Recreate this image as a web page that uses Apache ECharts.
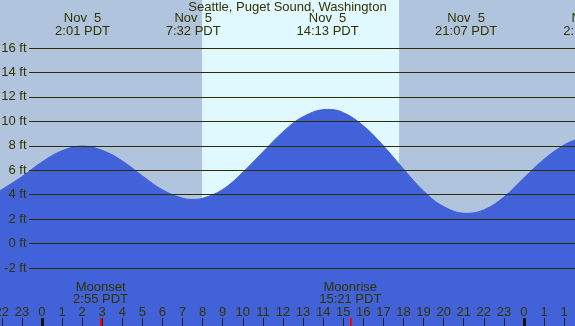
<!DOCTYPE html>
<html>
<head>
<meta charset="utf-8">
<script src="https://cdn.jsdelivr.net/npm/echarts@6/dist/echarts.min.js"></script>
<style>
html, body { margin: 0; padding: 0; background: #b0c4de; }
#chart { width: 575px; height: 326px; }
</style>
</head>
<body>
<div id="chart"></div>
<script>
// tide heights (hours since midnight Nov 5, PDT; feet)
var tideHours = [-2.09, -1, 0, 1, 2.02, 3, 4, 5, 6, 7, 7.53, 8, 9, 10, 11, 12, 13, 14.22,
  15, 16, 17, 18, 19, 20, 21.12, 22, 23, 24, 25, 26, 26.54];
var tideFeet = [4.35, 5.5, 6.7, 7.62, 8.0, 7.65, 6.78, 5.56, 4.42, 3.74, 3.64, 3.73, 4.45, 5.85, 7.52, 9.16, 10.4, 11.0,
  10.74, 9.66, 8.02, 6.12, 4.32, 3.05, 2.5, 2.78, 3.83, 5.4, 6.92, 8.1, 8.5];

// high / low tide labels
var extremeHours = [2.02, 7.53, 14.22, 21.12, 27.3];
var extremeLabels = ['Nov  5\n2:01 PDT', 'Nov  5\n7:32 PDT', 'Nov  5\n14:13 PDT', 'Nov  5\n21:07 PDT', 'Nov  6\n2:18 PST'];

// hour ticks along the bottom (DST ends at 2:00 on Nov 6, so "1" twice)
var hourTicks = [-2, -1, 0, 1, 2, 3, 4, 5, 6, 7, 8, 9, 10, 11, 12, 13, 14, 15, 16, 17, 18, 19, 20, 21, 22, 23, 24, 25, 26];
var hourLabels = ['22', '23', '0', '1', '2', '3', '4', '5', '6', '7', '8', '9', '10', '11', '12', '13', '14', '15', '16', '17', '18', '19', '20', '21', '22', '23', '0', '1', '1'];
var midnightHours = [0, 24];

var moonHours = [2.917, 15.35];
var moonLabels = ['Moonset\n2:55 PDT', 'Moonrise\n15:21 PDT'];

var dayStart = 7.97, dayEnd = 17.78;

var X0 = -2.09, X1 = 26.54;   // visible hour range
var Y0 = -6.72, Y1 = 19.95;   // visible feet range
var topMax = X1 + 40 * (X1 - X0) / 575;

var FONT = 'Liberation Sans';
var TXT = '#333300';
var LINE = '#2e2c08';

function pick(list, values, v) {
  var best = 0;
  for (var i = 1; i < values.length; i++) {
    if (Math.abs(values[i] - v) < Math.abs(values[best] - v)) best = i;
  }
  return list[best];
}

var chart = echarts.init(document.getElementById('chart'));
chart.setOption({
  backgroundColor: '#b0c4de',
  animation: false,
  title: {
    text: 'Seattle, Puget Sound, Washington',
    left: 'center',
    top: 0,
    padding: 0,
    textStyle: { fontSize: 13, fontWeight: 'normal', color: TXT, fontFamily: FONT, lineHeight: 14 }
  },
  grid: [
    { left: 0, right: 0, top: 0, bottom: 0, outerBoundsMode: 'none', containLabel: false },
    { left: 29, right: 0, top: 48, bottom: 58, outerBoundsMode: 'none', containLabel: false },
    { left: 0, right: -40, top: 0, bottom: 0, outerBoundsMode: 'none', containLabel: false }
  ],
  xAxis: [
    {
      type: 'value', gridIndex: 0, min: X0, max: X1, position: 'bottom', z: 10,
      axisLine: { show: false, onZero: false },
      splitLine: { show: false },
      axisTick: { inside: true, length: 8, customValues: hourTicks, lineStyle: { color: '#222', width: 1 } },
      axisLabel: {
        inside: true, margin: 8, customValues: hourTicks, color: TXT, fontSize: 13, fontFamily: FONT, lineHeight: 12,
        formatter: function (v) { return pick(hourLabels, hourTicks, v); }
      }
    },
    {
      type: 'value', gridIndex: 0, min: X0, max: X1, position: 'bottom', z: 11,
      axisLine: { show: false, onZero: false },
      splitLine: { show: false },
      axisTick: { inside: true, length: 8, customValues: midnightHours, lineStyle: { color: '#111', width: 3 } },
      axisLabel: { show: false }
    },
    {
      type: 'value', gridIndex: 0, min: X0, max: X1, position: 'bottom', z: 11,
      axisLine: { show: false, onZero: false },
      splitLine: { show: false },
      axisTick: { inside: true, length: 8, customValues: moonHours, lineStyle: { color: '#ff0000', width: 2 } },
      axisLabel: {
        inside: true, margin: 20.5, customValues: moonHours, color: TXT, fontSize: 13, fontFamily: FONT, lineHeight: 12,
        formatter: function (v) { return pick(moonLabels, moonHours, v); }
      }
    },
    { type: 'value', gridIndex: 1, min: 0, max: 1, show: false },
    {
      type: 'value', gridIndex: 2, min: X0, max: topMax, position: 'top', z: 10,
      axisLine: { show: false, onZero: false },
      splitLine: { show: false },
      axisTick: { show: false },
      axisLabel: {
        inside: true, margin: 12.5, customValues: extremeHours, color: TXT, fontSize: 13, fontFamily: FONT, lineHeight: 12.5,
        formatter: function (v) { return pick(extremeLabels, extremeHours, v); }
      }
    }
  ],
  yAxis: [
    { type: 'value', gridIndex: 0, min: Y0, max: Y1, show: false },
    {
      type: 'value', gridIndex: 1, min: -2, max: 16, interval: 2, z: 10,
      axisLine: { show: false, onZero: false },
      axisTick: { show: false },
      splitLine: { lineStyle: { color: LINE, width: 1 } },
      axisLabel: { margin: 2.5, color: TXT, fontSize: 13, fontFamily: FONT, formatter: '{value} ft' }
    },
    { type: 'value', gridIndex: 2, min: 0, max: 1, show: false }
  ],
  series: [
    {
      name: 'daylight',
      type: 'line',
      xAxisIndex: 0, yAxisIndex: 0,
      z: 1,
      data: [],
      markArea: {
        silent: true,
        itemStyle: { color: '#e0f8ff' },
        data: [[{ xAxis: dayStart }, { xAxis: dayEnd }]]
      }
    },
    {
      name: 'tide',
      type: 'line',
      xAxisIndex: 0, yAxisIndex: 0,
      z: 2,
      smooth: 0.4,
      showSymbol: false,
      lineStyle: { width: 1, color: '#4162d8' },
      areaStyle: { origin: 'start', color: '#4162d8', opacity: 1 },
      data: tideHours.map(function (h, i) { return [h, tideFeet[i]]; })
    }
  ]
});
</script>
</body>
</html>
